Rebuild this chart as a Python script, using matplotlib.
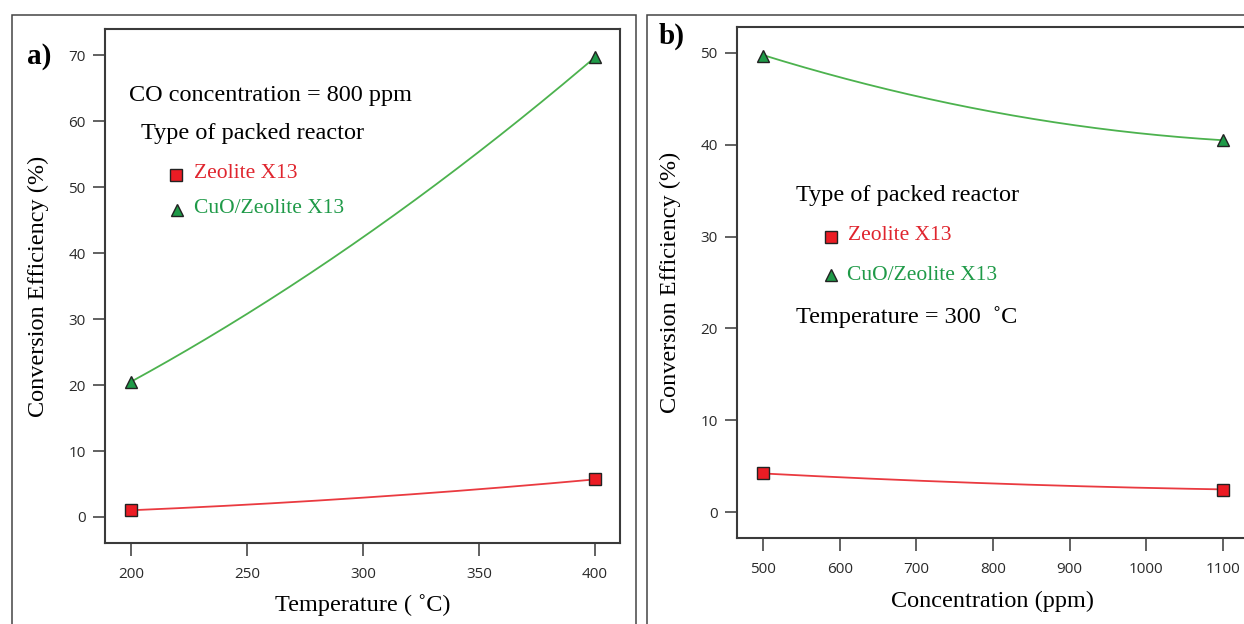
import numpy as np
import matplotlib
matplotlib.use("Agg")
import matplotlib.pyplot as plt
from matplotlib.lines import Line2D
from matplotlib.patches import Rectangle

# ---- data ----
temp_points = [200, 400]                 # measured temperatures (°C)
temp_curve_x = [200, 250, 300, 350, 400]  # curve readings
zeo_temp_pts = [1.0, 5.7]
cuo_temp_pts = [20.5, 69.7]
zeo_temp_curve = [1.0, 1.9, 2.9, 4.2, 5.7]
cuo_temp_curve = [20.5, 30.8, 42.4, 55.4, 69.7]

conc_points = [500, 1100]                # measured concentrations (ppm)
conc_curve_x = [500, 600, 700, 800, 900, 1000, 1100]
zeo_conc_pts = [4.2, 2.45]
cuo_conc_pts = [49.7, 40.5]
zeo_conc_curve = [4.2, 3.8, 3.4, 3.1, 2.85, 2.65, 2.45]
cuo_conc_curve = [49.7, 47.5, 45.3, 43.5, 42.2, 41.2, 40.5]

temp_ticks = [200, 250, 300, 350, 400]
temp_yticks = [0, 10, 20, 30, 40, 50, 60, 70]
conc_ticks = [500, 600, 700, 800, 900, 1000, 1100]
conc_yticks = [0, 10, 20, 30, 40, 50]

W, H = 1244, 624
RED_FILL = "#ec1c24"
RED_LINE = "#ea3a40"
RED_TEXT = "#e0252e"
GRN_FILL = "#1f9a48"
GRN_LINE = "#4cb24e"
GRN_TEXT = "#1f9a48"
SPINE = "#3a3a3a"
SERIF = ["Liberation Serif", "DejaVu Serif"]
SANS = ["Open Sans", "DejaVu Sans"]
BIG = 17.5
MID = 15.5

fig = plt.figure(figsize=(W / 100, H / 100), dpi=100)


def fx(px):
    return px / W


def fy(py):
    return 1 - py / H


def make_axes(l, t, r, b):
    return fig.add_axes([fx(l), fy(b), fx(r) - fx(l), fy(t) - fy(b)])


def style(ax, xticks, yticks):
    for s in ax.spines.values():
        s.set_color(SPINE)
        s.set_linewidth(1.5)
    ax.set_xticks(xticks)
    ax.set_yticks(yticks)
    ax.tick_params(direction="out", length=9, width=1.3, color="#555555",
                   labelsize=11, labelcolor="#2a2a2a")
    ax.tick_params(axis="x", pad=8)
    ax.tick_params(axis="y", pad=5)
    for lab in ax.get_xticklabels() + ax.get_yticklabels():
        lab.set_family(SANS)


def smooth(ax, x, y, color):
    c = np.polyfit(x, y, 2)
    xs = np.linspace(min(x), max(x), 200)
    ax.plot(xs, np.polyval(c, xs), color=color, lw=1.3, zorder=2)


def markers(ax, x, y, marker, fill):
    ax.plot(x, y, linestyle="none", marker=marker, markersize=8.5,
            markerfacecolor=fill, markeredgecolor="#222222",
            markeredgewidth=1.0, zorder=3, clip_on=False)


# ---- outer panel frames ----
fig.add_artist(Rectangle((fx(12), fy(640)), fx(636) - fx(12), fy(15) - fy(640),
                         transform=fig.transFigure, fill=False,
                         edgecolor="#444444", lw=1.1))
fig.add_artist(Rectangle((fx(647), fy(640)), fx(1260) - fx(647), fy(15) - fy(640),
                         transform=fig.transFigure, fill=False,
                         edgecolor="#444444", lw=1.1))

# ---- panel a ----
ax1 = make_axes(105, 29, 620, 543)
ax1.set_xlim(188.8, 410.8)
ax1.set_ylim(-3.95, 74.0)
style(ax1, temp_ticks, temp_yticks)
smooth(ax1, temp_curve_x, zeo_temp_curve, RED_LINE)
smooth(ax1, temp_curve_x, cuo_temp_curve, GRN_LINE)
markers(ax1, temp_points, zeo_temp_pts, "s", RED_FILL)
markers(ax1, temp_points, cuo_temp_pts, "^", GRN_FILL)
ax1.set_xlabel("Temperature ( ˚C)", family=SERIF, fontsize=BIG, labelpad=9)
ax1.set_ylabel("Conversion Efficiency (%)", family=SERIF, fontsize=BIG, labelpad=14)

# ---- panel b ----
ax2 = make_axes(737, 27, 1249, 538)
ax2.set_xlim(466.1, 1133.9)
ax2.set_ylim(-2.83, 52.83)
style(ax2, conc_ticks, conc_yticks)
smooth(ax2, conc_curve_x, zeo_conc_curve, RED_LINE)
smooth(ax2, conc_curve_x, cuo_conc_curve, GRN_LINE)
markers(ax2, conc_points, zeo_conc_pts, "s", RED_FILL)
markers(ax2, conc_points, cuo_conc_pts, "^", GRN_FILL)
ax2.set_xlabel("Concentration (ppm)", family=SERIF, fontsize=BIG, labelpad=10)
ax2.set_ylabel("Conversion Efficiency (%)", family=SERIF, fontsize=BIG, labelpad=14)


# ---- annotations / legends ----
def ftext(px, py, s, color="black", size=BIG, **kw):
    fig.text(fx(px), fy(py), s, color=color, fontsize=size, family=SERIF,
             va="center", ha="left", **kw)


def fmark(px, py, marker, fill):
    fig.add_artist(Line2D([fx(px)], [fy(py)], transform=fig.transFigure,
                          marker=marker, markersize=8.5, linestyle="none",
                          markerfacecolor=fill, markeredgecolor="#222222",
                          markeredgewidth=1.0))


ftext(27, 56, "a)", size=21, fontweight="bold")
ftext(659, 36, "b)", size=21, fontweight="bold")

ftext(129, 96, "CO concentration = 800 ppm")
ftext(141, 133, "Type of packed reactor")
fmark(176, 175, "s", RED_FILL)
ftext(194, 173, "Zeolite X13", color=RED_TEXT, size=MID)
fmark(177, 210, "^", GRN_FILL)
ftext(194, 209, "CuO/Zeolite X13", color=GRN_TEXT, size=MID)

ftext(796, 195, "Type of packed reactor")
fmark(831, 237, "s", RED_FILL)
ftext(848, 235, "Zeolite X13", color=RED_TEXT, size=MID)
fmark(831, 275, "^", GRN_FILL)
ftext(847, 275, "CuO/Zeolite X13", color=GRN_TEXT, size=MID)
ftext(796, 317, "Temperature = 300  ˚C")

fig.savefig("out.png", dpi=100)
